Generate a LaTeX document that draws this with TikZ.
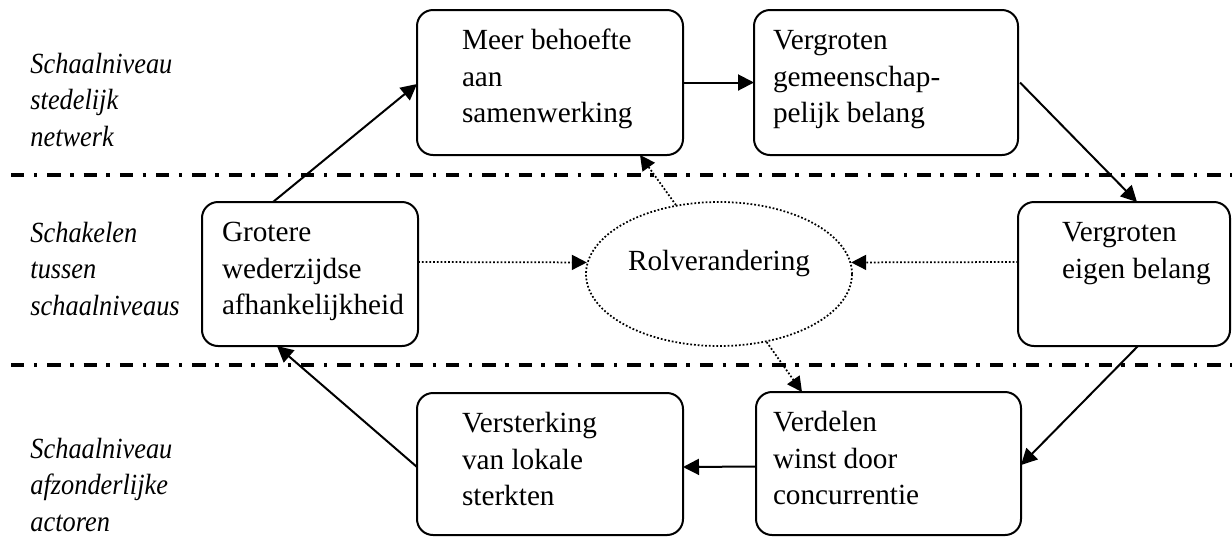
\documentclass[tikz,border=0pt]{standalone}
\usepackage{fontspec}
\setmainfont{Liberation Serif}
\newfontfamily\levelfont[FakeStretch=0.9]{Liberation Serif}
\usetikzlibrary{shapes.geometric,arrows.meta}

% lengths given in drawing units (1 unit = 0.4pt)
\newcommand{\px}[1]{\dimexpr #1pt*2/5\relax}
% body of a rounded box: width, height, left indent, text (top aligned)
\newcommand{\boxbody}[4]{%
  \parbox[c][\px{#2}][t]{\px{#1}}{\parindent=0pt\leftskip=\px{#3}%
    \vspace*{5.6pt}\strut #4\par}}
% stacked italic level label
\newcommand{\levellabel}[1]{\parbox[t]{60pt}{\levelfont\itshape\strut #1}}

\tikzset{
  every node/.style={font=\fontsize{11.7pt}{14.6pt}\selectfont},
  stagebox/.style={draw, line width=0.8pt, rounded corners=6.4pt, inner sep=0pt, outer sep=0pt},
  rolebox/.style={draw, ellipse, line width=0.7pt, dash pattern=on 0.7pt off 0.8pt,
    inner sep=0pt, minimum width=\px{266}, minimum height=\px{144}},
  levelname/.style={anchor=base west, inner sep=0pt},
  flow/.style={line width=0.8pt, -{Triangle[length=6.4pt,width=6.4pt]}},
  influence/.style={line width=0.7pt, dash pattern=on 0.7pt off 0.8pt,
    -{Triangle[length=6pt,width=6pt]}},
  divider/.style={line width=1.3pt, dash pattern=on 5.3pt off 3.8pt on 1.4pt off 4.0pt},
}

\begin{document}
\begin{tikzpicture}[x=0.4pt,y=-0.4pt]
\useasboundingbox (0,0) rectangle (1232,536);

% level dividers
\draw[divider] (11,175) -- (1240,175);
\draw[divider] (11,365) -- (1240,365);

% level names
\node[levelname] (lvtop) at (30,73) {\levellabel{Schaalniveau\\stedelijk\\netwerk}};
\node[levelname] (lvmid) at (30,242) {\levellabel{Schakelen\\tussen\\schaalniveaus}};
\node[levelname] (lvbot) at (30,458) {\levellabel{Schaalniveau\\afzonderlijke\\actoren}};

% stages of the cycle
\node[stagebox] (A) at (550,82.5) {\boxbody{266}{145}{45}{Meer behoefte\\aan\\samenwerking}};
\node[stagebox] (B) at (886,82.5) {\boxbody{264}{145}{19}{Vergroten\\gemeenschap-\\pelijk belang}};
\node[stagebox] (C) at (1124,274) {\boxbody{212}{144}{44}{Vergroten\\eigen belang}};
\node[stagebox] (D) at (310,274) {\boxbody{216}{144}{20}{Grotere\\wederzijdse\\afhankelijkheid}};
\node[stagebox] (E) at (550,464) {\boxbody{266}{142}{45}{Versterking\\van lokale\\sterkten}};
\node[stagebox] (F) at (888.5,463.5) {\boxbody{265}{143}{17}{Verdelen\\winst door\\concurrentie}};

% central role change
\node[rolebox] (R) at (719,274) {\raisebox{1.6pt}[0pt][0pt]{Rolverandering}};

% main cycle
\draw[flow] ([shift={(71,0)}]D.north west) -- ([shift={(0,1.5)}]A.west);
\draw[flow] (A.east) -- (B.west);
\draw[flow] ([shift={(2,0)}]B.east) -- ([shift={(119,0)}]C.north west);
\draw[flow] ([shift={(120,0)}]C.south west) -- ([shift={(0,1.5)}]F.east);
\draw[flow] ([shift={(0,3)}]F.west) -- ([shift={(0,3)}]E.east);
\draw[flow] ([shift={(0,3)}]E.west) -- ([shift={(75,0)}]D.south west);

% links through the role change
\draw[influence] ([shift={(0,-12)}]D.east) -- (R.175);
\draw[influence] ([shift={(0,-12)}]C.west) -- (R.5);
\draw[influence] (R.122) -- ([shift={(90,0)}]A.south);
\draw[influence] (R.305) -- ([shift={(46,0)}]F.north west);
\end{tikzpicture}
\end{document}
